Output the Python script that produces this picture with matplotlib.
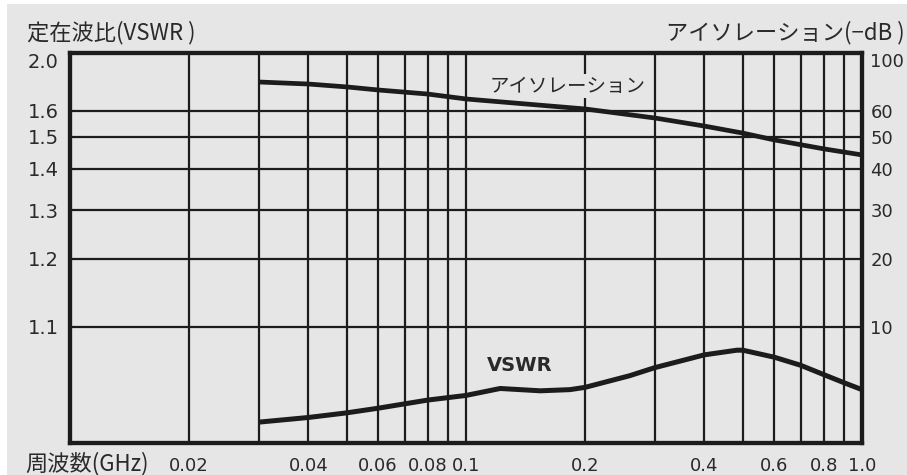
import numpy as np
import matplotlib
matplotlib.use("Agg")
import matplotlib.pyplot as plt
from matplotlib.patches import Rectangle

plt.rcParams['font.family'] = ['DejaVu Sans', 'Noto Sans CJK JP']

# frequency (GHz) and curves
freq_iso = [0.03, 0.04, 0.05, 0.06, 0.08, 0.1, 0.2, 0.3, 0.4, 0.5, 0.6, 0.8, 1.0]
isolation = [80.0, 78.6, 76.6, 74.5, 71.7, 68.3, 61.4, 57.3, 54.2, 51.5, 49.1, 46.3, 44.4]

freq_vswr = [0.03, 0.04, 0.05, 0.06, 0.08, 0.1, 0.122, 0.154, 0.183, 0.2, 0.259,
             0.3, 0.4, 0.483, 0.5, 0.6, 0.7, 0.8, 0.9, 1.0]
vswr = [1.018, 1.022, 1.026, 1.030, 1.037, 1.041, 1.047, 1.045, 1.046, 1.048, 1.058,
        1.065, 1.076, 1.080, 1.080, 1.074, 1.067, 1.059, 1.052, 1.046]

# the chart's odd vertical scale: tick value -> height in pixels above the bottom
vswr_ticks = [1.0, 1.1, 1.2, 1.3, 1.4, 1.5, 1.6, 2.0]
db_ticks = [0, 10, 20, 30, 40, 50, 60, 100]
tick_height = [0, 116, 184, 233, 274, 306, 332, 390]

x_ticks = [0.02, 0.04, 0.06, 0.08, 0.1, 0.2, 0.4, 0.6, 0.8, 1.0]
x_labels = ['0.02', '0.04', '0.06', '0.08', '0.1', '0.2', '0.4', '0.6', '0.8', '1.0']
x_grid = [0.02, 0.03, 0.04, 0.05, 0.06, 0.07, 0.08, 0.09,
          0.1, 0.2, 0.3, 0.4, 0.5, 0.6, 0.7, 0.8, 0.9]

INK = '#1c1c1c'
TXT = '#2a2a2a'
BG = '#e6e6e6'
JP = ['Noto Sans CJK JP', 'DejaVu Sans']


def v_fwd(v):
    return np.interp(v, vswr_ticks, tick_height)


def v_inv(p):
    return np.interp(p, tick_height, vswr_ticks)


def d_fwd(d):
    return np.interp(d, db_ticks, tick_height)


def d_inv(p):
    return np.interp(p, tick_height, db_ticks)


fig = plt.figure(figsize=(9.07, 4.75), dpi=100, facecolor=BG)
# white scan margins
fig.patches.append(Rectangle((0, 0), 7 / 907, 1, transform=fig.transFigure,
                             facecolor='white', edgecolor='none'))
fig.patches.append(Rectangle((0, 1 - 4 / 475), 1, 4 / 475, transform=fig.transFigure,
                             facecolor='white', edgecolor='none'))

ax = fig.add_axes([70 / 907, 32 / 475, 792 / 907, 390 / 475])
ax.set_facecolor(BG)
ax.set_xscale('log')
ax.set_xlim(0.01, 1.0)
ax.set_yscale('function', functions=(v_fwd, v_inv))
ax.set_ylim(1.0, 2.0)

# grid
for f in x_grid:
    ax.axvline(f, color=INK, lw=1.6, zorder=1)
for v in vswr_ticks[1:-1]:
    ax.axhline(v, color=INK, lw=1.6, zorder=1)

ax.set_xticks(x_ticks)
ax.set_xticklabels(x_labels)
ax.xaxis.set_minor_locator(plt.NullLocator())
ax.set_yticks(vswr_ticks[1:])
ax.set_yticklabels(['1.1', '1.2', '1.3', '1.4', '1.5', '1.6', '2.0'])
ax.yaxis.set_minor_locator(plt.NullLocator())
ax.tick_params(axis='x', length=0, pad=10, labelsize=13, labelcolor=TXT)
ax.tick_params(axis='y', length=0, pad=8, labelsize=14, labelcolor=TXT)
ax.get_yticklabels()[-1].set_va('top')
for s in ax.spines.values():
    s.set_linewidth(3)
    s.set_color(INK)

ax.plot(freq_vswr, vswr, color=INK, lw=3.6, solid_capstyle='butt', zorder=3)

ax2 = ax.twinx()
ax2.set_yscale('function', functions=(d_fwd, d_inv))
ax2.set_ylim(0, 100)
ax2.set_yticks(db_ticks[1:])
ax2.set_yticklabels(['10', '20', '30', '40', '50', '60', '100'])
ax2.yaxis.set_minor_locator(plt.NullLocator())
ax2.tick_params(axis='y', length=0, pad=6, labelsize=13, labelcolor=TXT)
ax2.get_yticklabels()[-1].set_va('top')
for s in ax2.spines.values():
    s.set_linewidth(3)
    s.set_color(INK)
ax2.plot(freq_iso, isolation, color=INK, lw=3.4, solid_capstyle='butt', zorder=3)

# curve labels
ax.text(0.115, 1.77, 'アイソレーション', family=JP, fontsize=14, color=TXT,
        ha='left', va='center', zorder=4,
        bbox=dict(facecolor=BG, edgecolor='none', pad=1))
ax.text(0.113, 1.067, 'VSWR', fontsize=14, fontweight='bold', color=TXT,
        ha='left', va='center', zorder=4)

# axis titles
fig.text(27 / 907, 1 - 33 / 475, '定在波比(VSWR )', family=JP, fontsize=16,
         color=TXT, ha='left', va='center')
fig.text(905 / 907, 1 - 33 / 475, 'アイソレーション(−dB )', family=JP, fontsize=16,
         color=TXT, ha='right', va='center')
fig.text(25 / 907, 1 - 464 / 475, '周波数(GHz)', family=JP, fontsize=16,
         color=TXT, ha='left', va='center')

fig.savefig('out.png', dpi=100, facecolor=BG)
